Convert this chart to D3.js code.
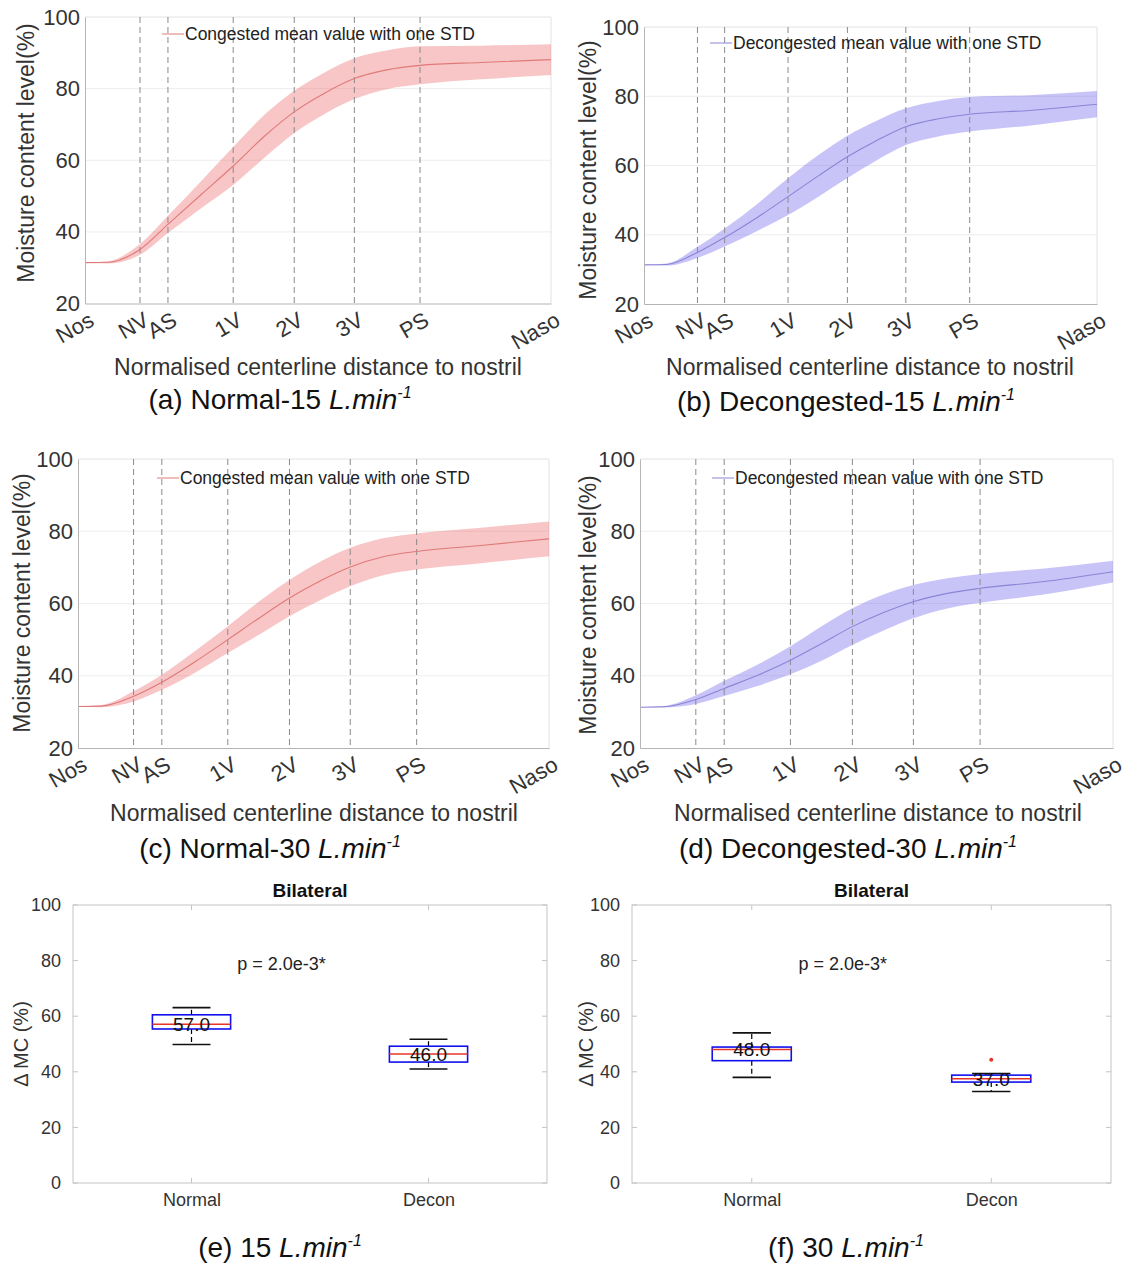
<!DOCTYPE html>
<html>
<head>
<meta charset="utf-8">
<script src="https://cdn.jsdelivr.net/npm/d3@7"></script>
<style>
  body { margin: 0; background: #fff; }
  svg { font-family: "Liberation Sans", Arial, sans-serif; }
</style>
</head>
<body>
<svg id="fig" width="1141" height="1267"></svg>
<script>
// landmarks along the normalised centerline
const landmarks = ['Nos', 'NV', 'AS', '1V', '2V', '3V', 'PS', 'Naso']
const landmarkPos = [0, 0.118, 0.178, 0.318, 0.449, 0.578, 0.719, 1]
const profileTicks = [20, 40, 60, 80, 100]

// sample positions for the mean / std curves
const distance = [0, 0.05, 0.118, 0.178, 0.25, 0.318, 0.385, 0.449, 0.515, 0.578, 0.65, 0.719, 0.85, 1]

const normal15Mean = [31.4, 31.5, 35.1, 42.1, 50.5, 58.4, 66.7, 73.5, 78.8, 82.8, 85.3, 86.5, 87.3, 88.1]
const normal15Std  = [0, 0.3, 1.5, 2.4, 3.8, 5.3, 6.0, 5.9, 5.8, 5.7, 5.4, 5.3, 4.7, 4.3]
const decon15Mean  = [31.3, 31.4, 34.9, 39.2, 45.0, 51.0, 57.0, 62.5, 67.3, 71.2, 73.5, 74.8, 75.9, 77.7]
const decon15Std   = [0, 0.3, 1.6, 2.6, 3.9, 5.3, 6.0, 6.1, 5.7, 5.3, 5.1, 5.0, 4.4, 3.8]
const normal30Mean = [31.5, 31.6, 34.3, 38.2, 44.0, 50.0, 56.0, 61.5, 66.3, 70.1, 73.0, 74.4, 76.0, 77.9]
const normal30Std  = [0, 0.3, 1.4, 2.1, 3.0, 3.7, 4.6, 5.0, 5.3, 5.3, 5.1, 5.0, 4.9, 4.8]
const decon30Mean  = [31.3, 31.4, 33.4, 36.5, 40.2, 44.3, 49.0, 53.6, 57.5, 60.5, 62.8, 64.2, 66.0, 68.8]
const decon30Std   = [0, 0.2, 1.2, 2.1, 3.0, 3.9, 4.8, 5.1, 5.0, 4.6, 4.2, 4.0, 3.6, 3.0]

// box plots of delta MC
const boxGroups = ['Normal', 'Decon']
const boxTicks = [0, 20, 40, 60, 80, 100]
const box15Low = [49.8, 41.0]
const box15Q1 = [55.4, 43.5]
const box15Median = [57.1, 46.4]
const box15Q3 = [60.5, 49.2]
const box15High = [63.1, 51.7]
const box15Labels = ['57.0', '46.0']
const box15Outliers = [[], []]
const box30Low = [38.0, 32.9]
const box30Q1 = [44.0, 36.3]
const box30Median = [48.0, 37.5]
const box30Q3 = [48.9, 38.8]
const box30High = [54.0, 39.4]
const box30Labels = ['48.0', '37.0']
const box30Outliers = [[], [44.3]]

const svg = d3.select('#fig')

function caption(cx, cy, prefix) {
    const t = svg.append('text')
        .attr('x', cx)
        .attr('y', cy)
        .attr('text-anchor', 'middle')
        .attr('font-size', 28)
        .attr('fill', '#111')
    t.append('tspan').text(prefix + ' ')
    t.append('tspan').attr('font-style', 'italic').text('L.min')
    t.append('tspan').attr('font-style', 'italic').attr('font-size', 16).attr('dy', -11).text('-1')
}

function drawProfile(p) {
    const x = d3.scaleLinear().domain([0, 1]).range([p.left, p.right])
    const y = d3.scaleLinear().domain([20, 100]).range([p.bottom, p.top])
    const g = svg.append('g')

    g.append('g')
        .selectAll('line')
        .data([40, 60, 80])
        .join('line')
            .attr('x1', p.left)
            .attr('x2', p.right)
            .attr('y1', d => y(d))
            .attr('y2', d => y(d))
            .attr('stroke', '#ededed')

    g.append('path')
        .attr('d', `M${p.left},${p.top}H${p.right}V${p.bottom}`)
        .attr('fill', 'none')
        .attr('stroke', '#e2e2e2')

    const pts = distance.map((d, i) => ({ x: d, m: p.mean[i], s: p.std[i] }))

    g.append('path')
        .datum(pts)
        .attr('d', d3.area()
            .x(d => x(d.x))
            .y0(d => y(d.m - d.s))
            .y1(d => y(d.m + d.s))
            .curve(d3.curveMonotoneX))
        .attr('fill', p.fill)

    g.append('g')
        .selectAll('line')
        .data(landmarkPos.slice(1, -1))
        .join('line')
            .attr('x1', d => x(d))
            .attr('x2', d => x(d))
            .attr('y1', p.top)
            .attr('y2', p.bottom)
            .attr('stroke', '#8a8a8a')
            .attr('stroke-dasharray', '6,4')

    g.append('path')
        .datum(pts)
        .attr('d', d3.line()
            .x(d => x(d.x))
            .y(d => y(d.m))
            .curve(d3.curveMonotoneX))
        .attr('fill', 'none')
        .attr('stroke', p.line)
        .attr('stroke-width', 1.1)

    const yAxis = d3.axisLeft(y).tickValues(profileTicks).tickSize(0).tickPadding(5)
    const yg = g.append('g').attr('transform', `translate(${p.left},0)`).call(yAxis)
    yg.select('.domain').attr('stroke', '#b5b5b5')
    yg.selectAll('text').attr('font-size', 22).attr('fill', '#333').attr('font-family', null)

    const xAxis = d3.axisBottom(x).tickValues(landmarkPos).tickFormat((d, i) => landmarks[i]).tickSize(0)
    const xg = g.append('g').attr('transform', `translate(0,${p.bottom})`).call(xAxis)
    xg.select('.domain').attr('stroke', '#b5b5b5')
    xg.selectAll('text')
        .attr('y', 0)
        .attr('dy', 0)
        .attr('text-anchor', 'end')
        .attr('transform', 'translate(10,21) rotate(-30)')
        .attr('font-size', 22)
        .attr('fill', '#333')
        .attr('font-family', null)

    // legend
    g.append('line')
        .attr('x1', p.legendX)
        .attr('x2', p.legendX + 22)
        .attr('y1', p.legendY)
        .attr('y2', p.legendY)
        .attr('stroke', p.line)
    g.append('text')
        .attr('x', p.legendX + 23)
        .attr('y', p.legendY)
        .attr('dy', '0.35em')
        .attr('font-size', 17.5)
        .attr('fill', '#222')
        .text(p.legend)

    g.append('text')
        .attr('x', p.xTitleX)
        .attr('y', p.xTitleY)
        .attr('text-anchor', 'middle')
        .attr('font-size', 23)
        .attr('fill', '#333')
        .text('Normalised centerline distance to nostril')

    g.append('text')
        .attr('transform', `translate(${p.yTitleX},${p.yTitleY}) rotate(-90)`)
        .attr('text-anchor', 'middle')
        .attr('font-size', 23)
        .attr('fill', '#333')
        .text('Moisture content level(%)')

    caption(p.capX, p.capY, p.caption)
}

function drawBox(p) {
    const x = d3.scaleLinear().domain([0.5, 2.5]).range([p.left, p.right])
    const y = d3.scaleLinear().domain([0, 100]).range([p.bottom, p.top])
    const g = svg.append('g')

    g.append('rect')
        .attr('x', p.left)
        .attr('y', p.top)
        .attr('width', p.right - p.left)
        .attr('height', p.bottom - p.top)
        .attr('fill', 'none')
        .attr('stroke', '#c4c4c4')

    // inward ticks on all four sides
    const tk = g.append('g').attr('stroke', '#c4c4c4')
    tk.selectAll('line.yl').data(boxTicks).join('line')
        .attr('x1', p.left).attr('x2', p.left + 5)
        .attr('y1', d => y(d)).attr('y2', d => y(d))
    tk.selectAll('line.yr').data(boxTicks).join('line')
        .attr('x1', p.right - 5).attr('x2', p.right)
        .attr('y1', d => y(d)).attr('y2', d => y(d))
    tk.selectAll('line.xb').data([1, 2]).join('line')
        .attr('x1', d => x(d)).attr('x2', d => x(d))
        .attr('y1', p.bottom).attr('y2', p.bottom - 5)
    tk.selectAll('line.xt').data([1, 2]).join('line')
        .attr('x1', d => x(d)).attr('x2', d => x(d))
        .attr('y1', p.top).attr('y2', p.top + 5)

    const yAxis = d3.axisLeft(y).tickValues(boxTicks).tickSize(0).tickPadding(12)
    const yg = g.append('g').attr('transform', `translate(${p.left},0)`).call(yAxis)
    yg.select('.domain').remove()
    yg.selectAll('text').attr('font-size', 18).attr('fill', '#333').attr('font-family', null)

    const xAxis = d3.axisBottom(x).tickValues([1, 2]).tickFormat((d, i) => boxGroups[i]).tickSize(0).tickPadding(10)
    const xg = g.append('g').attr('transform', `translate(0,${p.bottom})`).call(xAxis)
    xg.select('.domain').remove()
    xg.selectAll('text').attr('font-size', 18).attr('fill', '#333').attr('font-family', null)

    const stats = boxGroups.map((name, i) => ({
        pos: i + 1, low: p.low[i], q1: p.q1[i], med: p.median[i], q3: p.q3[i],
        high: p.high[i], label: p.labels[i], out: p.outliers[i]
    }))
    const bw = 0.33, cw = 0.16

    const b = g.selectAll('g.box').data(stats).join('g')
    b.append('line')
        .attr('x1', d => x(d.pos)).attr('x2', d => x(d.pos))
        .attr('y1', d => y(d.q3)).attr('y2', d => y(d.high))
        .attr('stroke', '#000').attr('stroke-dasharray', '5,3').attr('stroke-width', 1.2)
    b.append('line')
        .attr('x1', d => x(d.pos)).attr('x2', d => x(d.pos))
        .attr('y1', d => y(d.q1)).attr('y2', d => y(d.low))
        .attr('stroke', '#000').attr('stroke-dasharray', '5,3').attr('stroke-width', 1.2)
    b.append('line')
        .attr('x1', d => x(d.pos - cw / 2)).attr('x2', d => x(d.pos + cw / 2))
        .attr('y1', d => y(d.high)).attr('y2', d => y(d.high))
        .attr('stroke', '#111').attr('stroke-width', 1.6)
    b.append('line')
        .attr('x1', d => x(d.pos - cw / 2)).attr('x2', d => x(d.pos + cw / 2))
        .attr('y1', d => y(d.low)).attr('y2', d => y(d.low))
        .attr('stroke', '#111').attr('stroke-width', 1.6)
    b.append('rect')
        .attr('x', d => x(d.pos - bw / 2))
        .attr('width', d => x(d.pos + bw / 2) - x(d.pos - bw / 2))
        .attr('y', d => y(d.q3))
        .attr('height', d => y(d.q1) - y(d.q3))
        .attr('fill', '#fff')
        .attr('stroke', '#1010ee')
        .attr('stroke-width', 1.6)
    b.append('line')
        .attr('x1', d => x(d.pos - bw / 2)).attr('x2', d => x(d.pos + bw / 2))
        .attr('y1', d => y(d.med)).attr('y2', d => y(d.med))
        .attr('stroke', '#e8352a').attr('stroke-width', 1.6)
    b.selectAll('circle')
        .data(d => d.out.map(v => ({ pos: d.pos, v: v })))
        .join('circle')
            .attr('cx', d => x(d.pos))
            .attr('cy', d => y(d.v))
            .attr('r', 2)
            .attr('fill', '#e8352a')
    b.append('text')
        .attr('x', d => x(d.pos))
        .attr('y', d => y(d.med))
        .attr('dy', '0.36em')
        .attr('text-anchor', 'middle')
        .attr('font-size', 19)
        .attr('fill', '#111')
        .text(d => d.label)

    g.append('text')
        .attr('x', x(1.38))
        .attr('y', y(79))
        .attr('dy', '0.35em')
        .attr('text-anchor', 'middle')
        .attr('font-size', 18)
        .attr('fill', '#222')
        .text('p = 2.0e-3*')

    g.append('text')
        .attr('x', (p.left + p.right) / 2)
        .attr('y', p.top - 8)
        .attr('text-anchor', 'middle')
        .attr('font-size', 19)
        .attr('font-weight', 'bold')
        .attr('fill', '#111')
        .text('Bilateral')

    g.append('text')
        .attr('transform', `translate(${p.yTitleX},${(p.top + p.bottom) / 2}) rotate(-90)`)
        .attr('text-anchor', 'middle')
        .attr('font-size', 20)
        .attr('fill', '#333')
        .text('\u0394 MC (%)')

    caption(p.capX, p.capY, p.caption)
}

const red = { fill: 'rgba(236,100,100,0.37)', line: '#e07a7a', legend: 'Congested mean value with one STD' }
const blue = { fill: 'rgba(112,100,236,0.38)', line: '#8b85d6', legend: 'Decongested mean value with one STD' }

drawProfile(Object.assign({}, red, {
    left: 85, right: 551, top: 17, bottom: 303.5, mean: normal15Mean, std: normal15Std,
    legendX: 162, legendY: 34, xTitleX: 318, xTitleY: 375, yTitleX: 34, yTitleY: 153,
    capX: 280, capY: 409, caption: '(a) Normal-15'
}))
drawProfile(Object.assign({}, blue, {
    left: 644, right: 1097, top: 27, bottom: 304, mean: decon15Mean, std: decon15Std,
    legendX: 710, legendY: 43, xTitleX: 870, xTitleY: 375, yTitleX: 596, yTitleY: 170,
    capX: 846, capY: 411, caption: '(b) Decongested-15'
}))
drawProfile(Object.assign({}, red, {
    left: 78, right: 549, top: 459, bottom: 748, mean: normal30Mean, std: normal30Std,
    legendX: 157, legendY: 478, xTitleX: 314, xTitleY: 821, yTitleX: 30, yTitleY: 603,
    capX: 270, capY: 858, caption: '(c) Normal-30'
}))
drawProfile(Object.assign({}, blue, {
    left: 640, right: 1113, top: 459, bottom: 748, mean: decon30Mean, std: decon30Std,
    legendX: 712, legendY: 478, xTitleX: 878, xTitleY: 821, yTitleX: 596, yTitleY: 605,
    capX: 848, capY: 858, caption: '(d) Decongested-30'
}))

drawBox({
    left: 73, right: 547, top: 905, bottom: 1183,
    low: box15Low, q1: box15Q1, median: box15Median, q3: box15Q3, high: box15High,
    labels: box15Labels, outliers: box15Outliers,
    yTitleX: 28, capX: 280, capY: 1257, caption: '(e) 15'
})
drawBox({
    left: 632, right: 1111, top: 905, bottom: 1183,
    low: box30Low, q1: box30Q1, median: box30Median, q3: box30Q3, high: box30High,
    labels: box30Labels, outliers: box30Outliers,
    yTitleX: 593, capX: 846, capY: 1257, caption: '(f) 30'
})
</script>
</body>
</html>
